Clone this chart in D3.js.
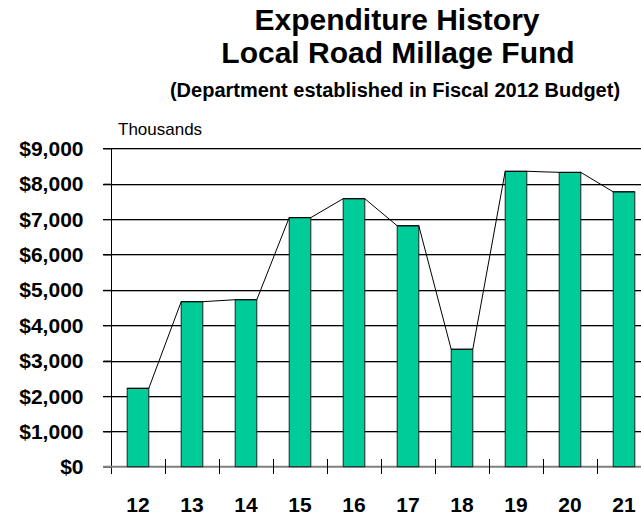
<!DOCTYPE html>
<html><head><meta charset="utf-8">
<script src="https://cdn.jsdelivr.net/npm/d3@7"></script>
<style>
html,body{margin:0;padding:0;background:#fff;}
svg{display:block;font-family:"Liberation Sans",Arial,sans-serif;}
</style></head>
<body><svg id="c" width="641" height="518"></svg>
<script>
const years = ["12","13","14","15","16","17","18","19","20","21"];
const values = [2216, 4664, 4720, 7040, 7575, 6810, 3320, 8350, 8320, 7770];
const yTicks = [0,1000,2000,3000,4000,5000,6000,7000,8000,9000];
const titleLines = ["Expenditure History","Local Road Millage Fund"];
const subtitle = "(Department established in Fiscal 2012 Budget)";
const unitLabel = "Thousands";

const svg = d3.select("#c");
const pLeft = 111, pRight = 651, pTop = 148.3, pBottom = 466.7;

const x = d3.scaleBand().domain(years).range([pLeft, pRight]).paddingInner(0.6).paddingOuter(0.3);
const y = d3.scaleLinear().domain([0, 9000]).range([pBottom, pTop]);
const step = x.step();

// titles
svg.append("text").attr("x", 397).attr("y", 30).attr("text-anchor","middle")
  .attr("font-size", 30).attr("font-weight","bold").text(titleLines[0]);
svg.append("text").attr("x", 398).attr("y", 63).attr("text-anchor","middle")
  .attr("font-size", 30).attr("font-weight","bold").text(titleLines[1]);
svg.append("text").attr("x", 395).attr("y", 97).attr("text-anchor","middle")
  .attr("font-size", 20).attr("font-weight","bold").text(subtitle);
svg.append("text").attr("x", 118).attr("y", 135)
  .attr("font-size", 17).text(unitLabel);

// gridlines (gray shadow + black line)
const grid = svg.append("g");
yTicks.filter(d => d > 0).forEach(d => {
  const yy = Math.round(y(d));
  grid.append("line").attr("x1", 103).attr("x2", 641).attr("y1", yy+1.5).attr("y2", yy+1.5)
    .attr("stroke", "#b0b0b0").attr("stroke-width", 1);
  grid.append("line").attr("x1", 103).attr("x2", 641).attr("y1", yy+0.5).attr("y2", yy+0.5)
    .attr("stroke", "#000").attr("stroke-width", 1);
});

// y axis
const yAxis = d3.axisLeft(y).tickValues(yTicks).tickSize(8).tickPadding(20)
  .tickFormat(d => "$" + d3.format(",")(d));
const ya = svg.append("g").attr("transform", `translate(${pLeft+0.5},0)`).call(yAxis);
ya.select(".domain").remove();
ya.selectAll(".tick line").attr("stroke","#000");
ya.selectAll(".tick text").attr("font-size", 21).attr("font-weight","bold")
  .attr("font-family", '"Liberation Sans",Arial,sans-serif').attr("fill","#000").attr("dy","0.34em");
svg.append("line").attr("x1", pLeft+0.5).attr("x2", pLeft+0.5).attr("y1", pTop).attr("y2", 474)
  .attr("stroke","#000");

// baseline
svg.append("line").attr("x1", 103).attr("x2", 641).attr("y1", pBottom).attr("y2", pBottom)
  .attr("stroke", "#808080").attr("stroke-width", 2);

// x tick marks at band boundaries
const bounds = years.slice(1).map(d => x(d) - (step - x.bandwidth())/2);
svg.append("g").selectAll("line").data(bounds).join("line")
  .attr("x1", d => Math.round(d)+0.5).attr("x2", d => Math.round(d)+0.5)
  .attr("y1", 459).attr("y2", 474).attr("stroke","#000");

// bars
svg.append("g").selectAll("rect").data(years).join("rect")
  .attr("x", d => x(d)).attr("width", x.bandwidth())
  .attr("y", (d,i) => y(values[i])).attr("height", (d,i) => pBottom - y(values[i]))
  .attr("fill", "#00cc99").attr("stroke", "#222").attr("stroke-width", 1);

// series line across bar tops
const pts = [];
years.forEach((d,i) => { pts.push([x(d), y(values[i])]); pts.push([x(d)+x.bandwidth(), y(values[i])]); });
svg.append("path").attr("d", d3.line()(pts)).attr("fill","none").attr("stroke","#000").attr("stroke-width",1);

// x labels
svg.append("g").selectAll("text").data(years).join("text")
  .attr("x", d => x(d) + x.bandwidth()/2).attr("y", 512).attr("text-anchor","middle")
  .attr("font-size", 21).attr("font-weight","bold").text(d => d);
</script></body></html>
